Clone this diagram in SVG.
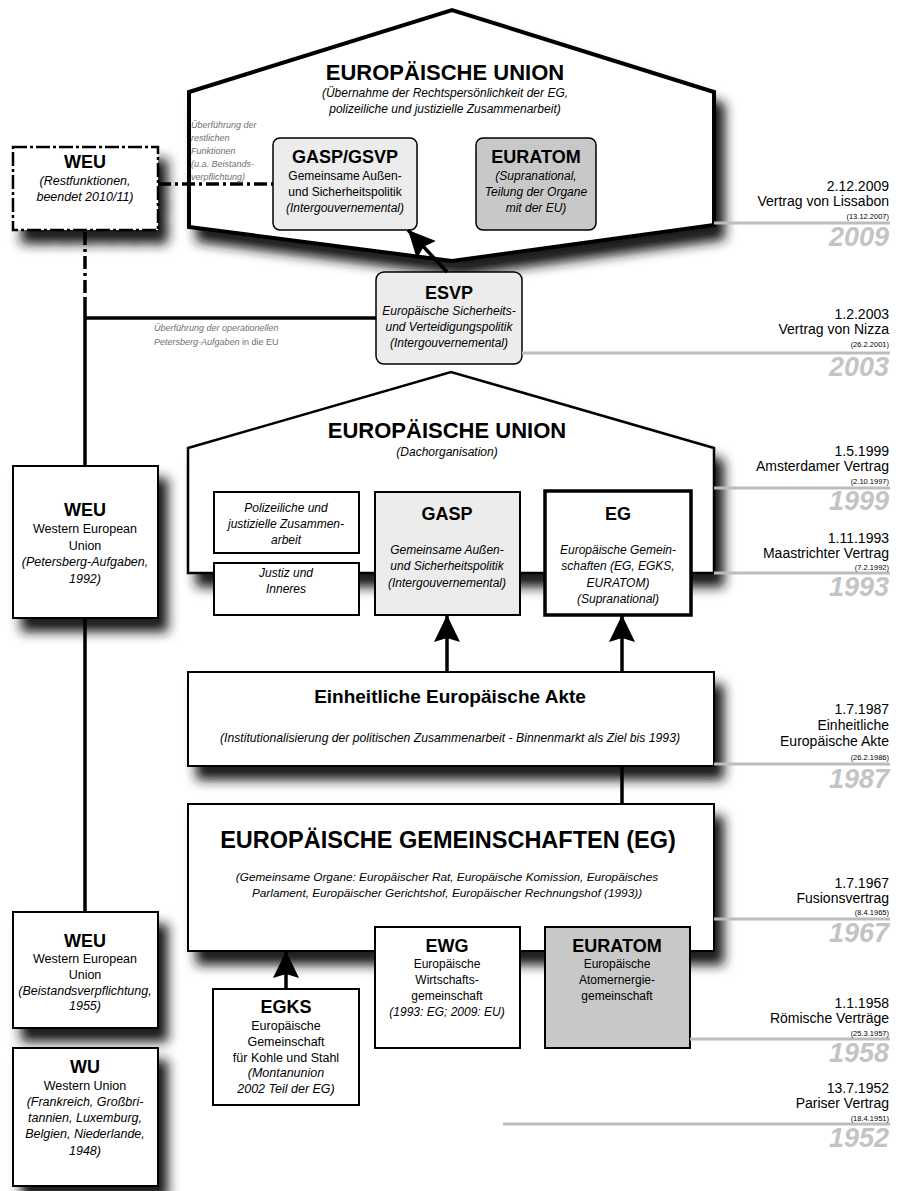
<svg xmlns="http://www.w3.org/2000/svg" width="899" height="1191" viewBox="0 0 899 1191">
<defs>
<style>
text{font-family:'Liberation Sans',Arial,sans-serif;fill:#000}
.c{text-anchor:middle}
.i{font-style:italic}
.h1{font-size:22px;font-weight:bold}
.h2{font-size:18px;font-weight:bold}
.s12{font-size:12px}
.s125{font-size:12.5px}
.note{font-size:9px;font-style:italic;fill:#707070}
.box{fill:#fff;stroke:#000;stroke-width:2}
.lg{fill:#ececec}
.dg{fill:#c8c8c8}
.ln{stroke:#000;stroke-width:3.5;fill:none}
.dd{stroke:#000;stroke-width:3.5;fill:none;stroke-dasharray:13 4 3 4}
.tl{stroke:#bdbdbd;stroke-width:3}
.tx{font-size:14px;text-anchor:end}
.sm{font-size:7.5px;text-anchor:end}
.yr{font-size:27px;font-weight:bold;font-style:italic;fill:#c4c4c4;text-anchor:end}
</style>
<filter id="sh" x="-15%" y="-15%" width="145%" height="170%">
<feGaussianBlur in="SourceAlpha" stdDeviation="6"/>
<feOffset dx="9" dy="13" result="o"/>
<feFlood flood-color="#1a1a1a"/>
<feComposite in2="o" operator="in"/>
<feMerge><feMergeNode/><feMergeNode in="SourceGraphic"/></feMerge>
</filter>
<marker id="ah" markerUnits="userSpaceOnUse" markerWidth="30" markerHeight="28" refX="27" refY="13" orient="auto">
<path d="M0,0 L27,13 L0,26 L4,13 z" fill="#000"/>
</marker>
</defs>

<g id="eu2009">
<polygon points="189,92 452,10 714,92 714,225 452,261 189,227" fill="#fff" stroke="#000" stroke-width="4" filter="url(#sh)"/>
<text class="h1 c" x="445" y="80">EUROPÄISCHE UNION</text>
<text class="s12 i c" x="445" y="97">(Übernahme der Rechtspersönlichkeit der EG,</text>
<text class="s12 i c" x="445" y="113">polizeiliche und justizielle Zusammenarbeit)</text>
<text class="note" x="191" y="128">Überführung der</text>
<text class="note" x="191" y="141">restlichen</text>
<text class="note" x="191" y="154">Funktionen</text>
<text class="note" x="191" y="167">(u.a. Beistands-</text>
<text class="note" x="191" y="180">verpflichtung)</text>
</g>

<g id="gasp-gsvp">
<rect x="273" y="138" width="144" height="92" rx="7" class="lg" stroke="#000" stroke-width="1.5"/>
<text class="h2 c" x="345" y="163">GASP/GSVP</text>
<text class="s12 c" x="345" y="180">Gemeinsame Außen-</text>
<text class="s12 c" x="345" y="196">und Sicherheitspolitik</text>
<text class="s12 i c" x="345" y="212">(Intergouvernemental)</text>
</g>

<g id="euratom-2009">
<rect x="476" y="138" width="120" height="92" rx="7" class="dg" stroke="#000" stroke-width="1.5"/>
<text class="h2 c" x="536" y="163">EURATOM</text>
<text class="s12 i c" x="536" y="180">(Supranational,</text>
<text class="s12 i c" x="536" y="196">Teilung der Organe</text>
<text class="s12 i c" x="536" y="212">mit der EU)</text>
</g>

<g id="weu-2010">
<rect x="13" y="147" width="145" height="83" fill="#fff" stroke="#000" stroke-width="2.5" stroke-dasharray="14 3 3 3" filter="url(#sh)"/>
<text class="h2 c" x="85" y="168">WEU</text>
<text class="s125 i c" x="85" y="185">(Restfunktionen,</text>
<text class="s125 i c" x="85" y="201">beendet 2010/11)</text>
</g>

<g id="esvp">
<rect x="376" y="272" width="146" height="92" rx="8" class="lg" stroke="#000" stroke-width="1.5"/>
<text class="h2 c" x="449" y="299">ESVP</text>
<text class="s12 i c" x="449" y="315">Europäische Sicherheits-</text>
<text class="s12 i c" x="449" y="331">und Verteidigungspolitik</text>
<text class="s12 i c" x="449" y="347">(Intergouvernemental)</text>
</g>

<g id="note-petersberg">
<text class="note" x="154" y="331">Überführung der operationellen</text>
<text class="note" x="154" y="345">Petersberg-Aufgaben<tspan font-style="normal"> in die EU</tspan></text>
</g>

<g id="eu1999">
<polygon points="188,448 451,372 714,448 714,573 188,573" fill="#fff" stroke="#000" stroke-width="2.5" filter="url(#sh)"/>
<text class="h1 c" x="447" y="438">EUROPÄISCHE UNION</text>
<text class="i c" font-size="12px" x="447" y="456">(Dachorganisation)</text>
</g>

<g id="pjz">
<rect x="214" y="492" width="145" height="61" class="box"/>
<text class="s12 i c" x="286" y="512">Polizeiliche und</text>
<text class="s12 i c" x="286" y="528">justizielle Zusammen-</text>
<text class="s12 i c" x="286" y="544">arbeit</text>
</g>

<g id="jui">
<rect x="214" y="563" width="145" height="52" class="box"/>
<text class="s12 i c" x="286" y="577">Justiz und</text>
<text class="s12 i c" x="286" y="593">Inneres</text>
</g>

<g id="gasp">
<rect x="375" y="492" width="145" height="123" class="lg" stroke="#000" stroke-width="2"/>
<text class="h2 c" x="447" y="520">GASP</text>
<text class="s12 i c" x="447" y="554">Gemeinsame Außen-</text>
<text class="s12 i c" x="447" y="570">und Sicherheitspolitik</text>
<text class="s12 i c" x="447" y="587">(Intergouvernemental)</text>
</g>

<g id="eg-1993">
<rect x="545" y="491" width="146" height="124" fill="#fff" stroke="#000" stroke-width="3.5"/>
<text class="h2 c" x="618" y="520">EG</text>
<text class="s12 i c" x="618" y="554">Europäische Gemein-</text>
<text class="s12 i c" x="618" y="570">schaften (EG, EGKS,</text>
<text class="s12 i c" x="618" y="587">EURATOM)</text>
<text class="s12 i c" x="618" y="603">(Supranational)</text>
</g>

<g id="weu-1992">
<rect x="13" y="466" width="145" height="152" class="box" filter="url(#sh)"/>
<text class="h2 c" x="85" y="516">WEU</text>
<text class="s125 c" x="85" y="533">Western European</text>
<text class="s125 c" x="85" y="550">Union</text>
<text class="s125 i c" x="85" y="566">(Petersberg-Aufgaben,</text>
<text class="s125 i c" x="85" y="583">1992)</text>
</g>

<g id="eea">
<rect x="188" y="672" width="526" height="94" class="box" filter="url(#sh)"/>
<text class="c" font-size="19px" font-weight="bold" x="450" y="703">Einheitliche Europäische Akte</text>
<text class="i c" font-size="12.2px" x="450" y="742">(Institutionalisierung der politischen Zusammenarbeit - Binnenmarkt als Ziel bis 1993)</text>
</g>

<g id="eg-1967">
<rect x="188" y="804" width="526" height="147" class="box" filter="url(#sh)"/>
<text class="c" font-size="23.5px" font-weight="bold" x="448" y="848">EUROPÄISCHE GEMEINSCHAFTEN (EG)</text>
<text class="i c" font-size="11.8px" x="447" y="881">(Gemeinsame Organe: Europäischer Rat, Europäische Komission, Europäisches</text>
<text class="i c" font-size="11.8px" x="447" y="897">Parlament, Europäischer Gerichtshof, Europäischer Rechnungshof (1993))</text>
</g>

<g id="ewg">
<rect x="375" y="927" width="145" height="121" class="box"/>
<text class="h2 c" x="447" y="952">EWG</text>
<text class="s12 c" x="447" y="968">Europäische</text>
<text class="s12 c" x="447" y="984">Wirtschafts-</text>
<text class="s12 c" x="447" y="1000">gemeinschaft</text>
<text class="s12 i c" x="447" y="1016">(1993: EG; 2009: EU)</text>
</g>

<g id="euratom-1958">
<rect x="545" y="927" width="145" height="121" class="dg" stroke="#000" stroke-width="2"/>
<text class="h2 c" x="617" y="952">EURATOM</text>
<text class="s12 c" x="617" y="968">Europäische</text>
<text class="s12 c" x="617" y="984">Atomernergie-</text>
<text class="s12 c" x="617" y="1000">gemeinschaft</text>
</g>

<g id="egks">
<rect x="213" y="989" width="146" height="116" class="box"/>
<text class="h2 c" x="286" y="1013">EGKS</text>
<text class="s125 c" x="286" y="1030">Europäische</text>
<text class="s125 c" x="286" y="1046">Gemeinschaft</text>
<text class="s125 c" x="286" y="1062">für Kohle und Stahl</text>
<text class="s125 i c" x="286" y="1077">(Montanunion</text>
<text class="s125 i c" x="286" y="1093">2002 Teil der EG)</text>
</g>

<g id="weu-1955">
<rect x="13" y="912" width="145" height="116" class="box" filter="url(#sh)"/>
<text class="h2 c" x="85" y="947">WEU</text>
<text class="s125 c" x="85" y="963">Western European</text>
<text class="s125 c" x="85" y="979">Union</text>
<text class="s125 i c" x="85" y="995">(Beistandsverpflichtung,</text>
<text class="s125 i c" x="85" y="1010">1955)</text>
</g>

<g id="wu">
<rect x="13" y="1048" width="145" height="138" class="box" filter="url(#sh)"/>
<text class="h2 c" x="85" y="1073">WU</text>
<text class="s125 c" x="85" y="1090">Western Union</text>
<text class="s125 i c" x="85" y="1106">(Frankreich, Großbri-</text>
<text class="s125 i c" x="85" y="1122">tannien, Luxemburg,</text>
<text class="s125 i c" x="85" y="1138">Belgien, Niederlande,</text>
<text class="s125 i c" x="85" y="1155">1948)</text>
</g>

<g id="connectors">
<line class="dd" x1="158" y1="184" x2="273" y2="184"/>
<line class="dd" x1="85" y1="232" x2="85" y2="298"/>
<line class="ln" x1="85" y1="298" x2="85" y2="466"/>
<line class="ln" x1="85" y1="318" x2="376" y2="318"/>
<line class="ln" x1="447" y1="272" x2="408" y2="230" marker-end="url(#ah)"/>
<line class="ln" x1="85" y1="618" x2="85" y2="912"/>
<line class="ln" x1="447" y1="672" x2="447" y2="615" marker-end="url(#ah)"/>
<line class="ln" x1="622" y1="672" x2="622" y2="615" marker-end="url(#ah)"/>
<line class="ln" x1="622" y1="804" x2="622" y2="766"/>
<line class="ln" x1="286" y1="989" x2="286" y2="951" marker-end="url(#ah)"/>
</g>

<g id="timeline">
<line class="tl" x1="714" y1="223" x2="890" y2="223"/>
<text class="tx" x="889" y="191">2.12.2009</text>
<text class="tx" x="889" y="206">Vertrag von Lissabon</text>
<text class="sm" x="889" y="219">(13.12.2007)</text>
<text class="yr" x="889" y="246">2009</text>

<line class="tl" x1="522" y1="353" x2="890" y2="353"/>
<text class="tx" x="889" y="319">1.2.2003</text>
<text class="tx" x="889" y="334">Vertrag von Nizza</text>
<text class="sm" x="889" y="347">(26.2.2001)</text>
<text class="yr" x="889" y="376">2003</text>

<line class="tl" x1="714" y1="488" x2="890" y2="488"/>
<text class="tx" x="889" y="456">1.5.1999</text>
<text class="tx" x="889" y="471">Amsterdamer Vertrag</text>
<text class="sm" x="889" y="484">(2.10.1997)</text>
<text class="yr" x="889" y="510">1999</text>

<line class="tl" x1="714" y1="573" x2="890" y2="573"/>
<text class="tx" x="889" y="543">1.11.1993</text>
<text class="tx" x="889" y="558">Maastrichter Vertrag</text>
<text class="sm" x="889" y="570">(7.2.1992)</text>
<text class="yr" x="889" y="596">1993</text>

<line class="tl" x1="714" y1="764" x2="890" y2="764"/>
<text class="tx" x="889" y="714">1.7.1987</text>
<text class="tx" x="889" y="730">Einheitliche</text>
<text class="tx" x="889" y="746">Europäische Akte</text>
<text class="sm" x="889" y="760">(26.2.1986)</text>
<text class="yr" x="889" y="788">1987</text>

<line class="tl" x1="714" y1="919" x2="890" y2="919"/>
<text class="tx" x="889" y="888">1.7.1967</text>
<text class="tx" x="889" y="903">Fusionsvertrag</text>
<text class="sm" x="889" y="915">(8.4.1965)</text>
<text class="yr" x="889" y="942">1967</text>

<line class="tl" x1="690" y1="1039" x2="890" y2="1039"/>
<text class="tx" x="889" y="1008">1.1.1958</text>
<text class="tx" x="889" y="1023">Römische Verträge</text>
<text class="sm" x="889" y="1036">(25.3.1957)</text>
<text class="yr" x="889" y="1062">1958</text>

<line class="tl" x1="503" y1="1124" x2="890" y2="1124"/>
<text class="tx" x="889" y="1093">13.7.1952</text>
<text class="tx" x="889" y="1108">Pariser Vertrag</text>
<text class="sm" x="889" y="1121">(18.4.1951)</text>
<text class="yr" x="889" y="1147">1952</text>
</g>
</svg>
